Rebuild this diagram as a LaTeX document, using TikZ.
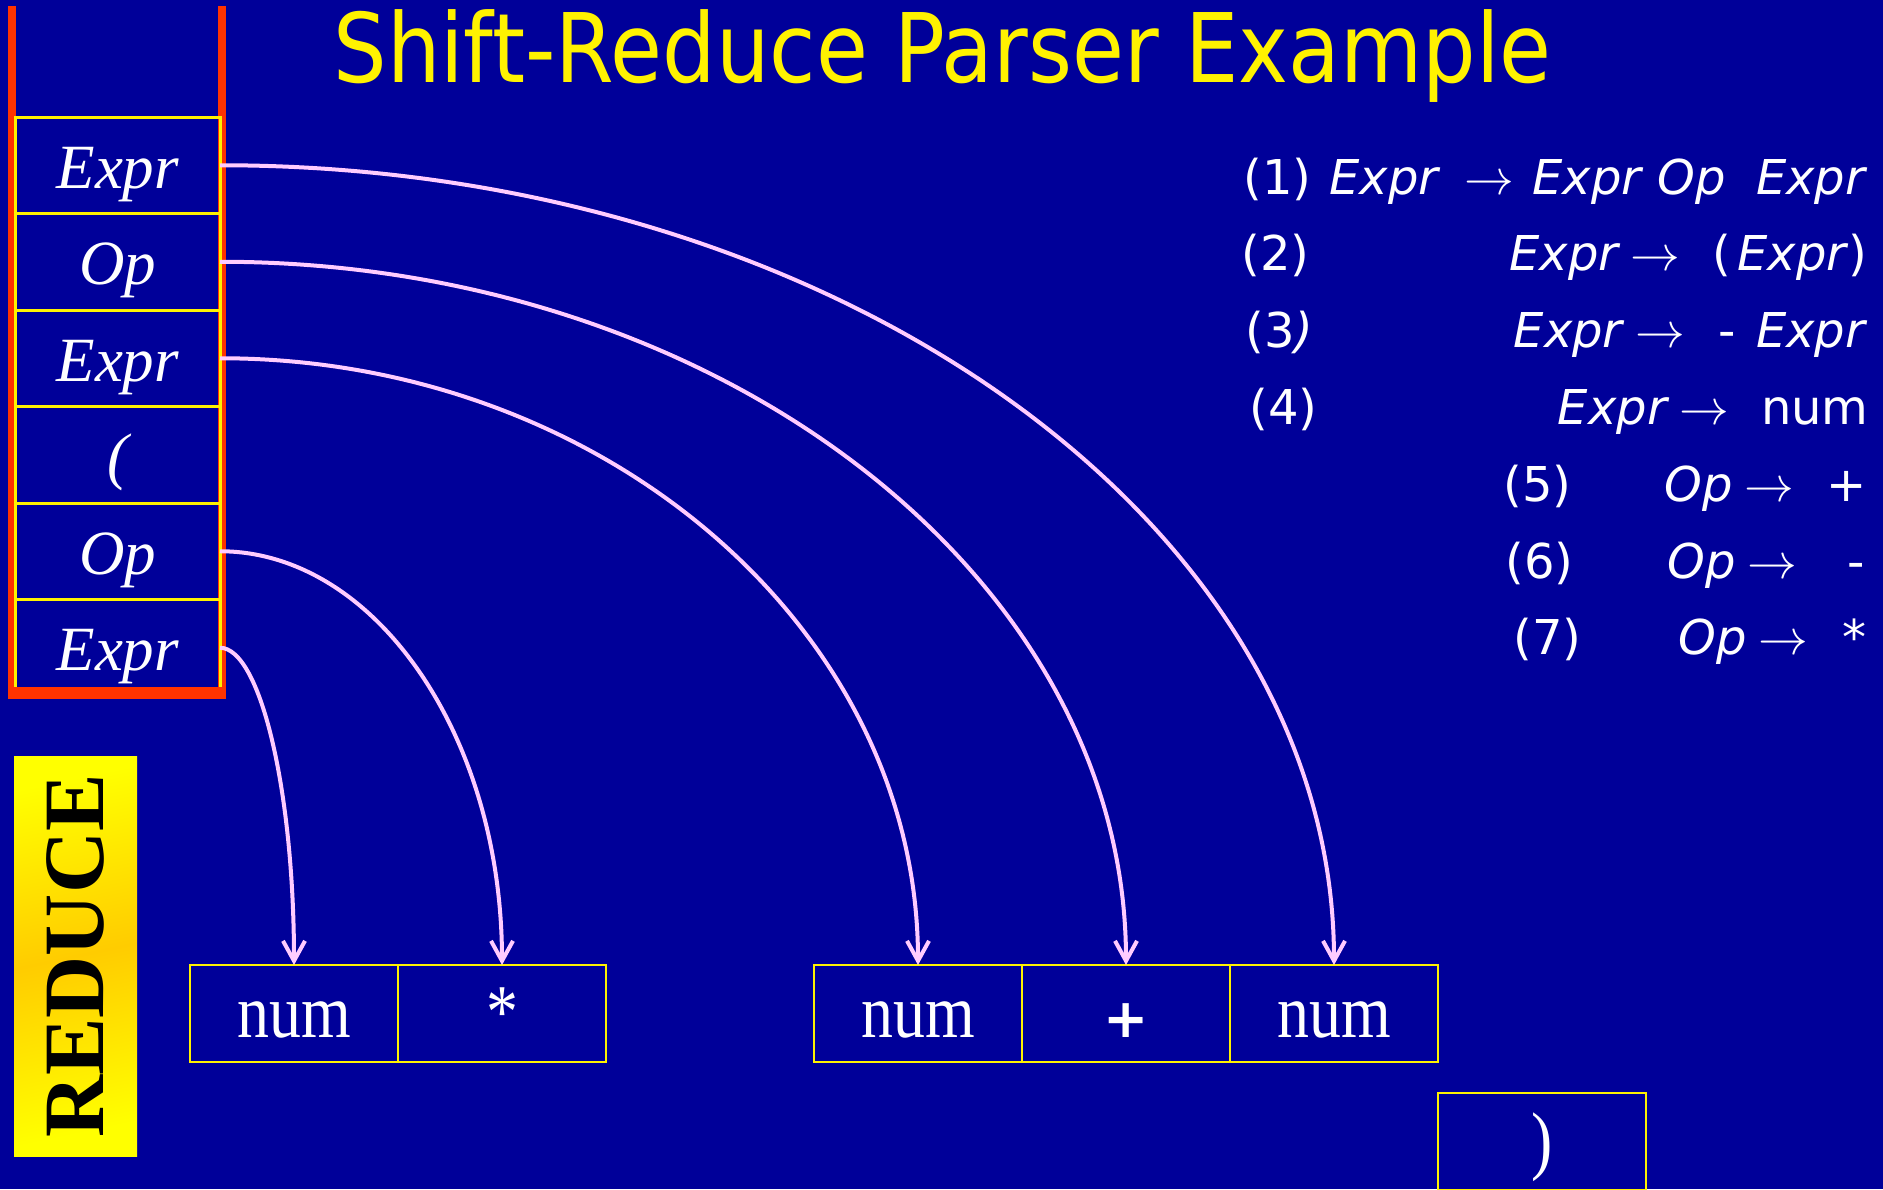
\documentclass[tikz,border=0pt]{standalone}
\usepackage{fontspec}
\setmainfont{Liberation Serif}
\newfontfamily\titlefont[FakeStretch=0.879]{DejaVu Sans}
\newfontfamily\rulefont{DejaVu Sans}
\newfontfamily\tapefont[FakeStretch=0.84]{Liberation Serif}
\usetikzlibrary{arrows.meta,positioning}
\definecolor{slide}{RGB}{0,0,153}
\definecolor{stackred}{RGB}{255,51,0}
\definecolor{arrowpink}{RGB}{255,204,255}
\definecolor{gold}{RGB}{255,204,0}
\newcommand{\der}{$\rightarrow$}

\begin{document}
\begin{tikzpicture}[x=0.5pt,y=-0.5pt,
  cell/.style={draw=yellow,line width=1.5pt,minimum width=102.25pt,minimum height=48.25pt,inner sep=0pt,outer sep=0pt,
    text=white,text height=25pt,text depth=2pt,font=\fontsize{31.5}{34}\selectfont\itshape},
  tape/.style={draw=yellow,line width=1.2pt,minimum width=104pt,minimum height=48.5pt,inner sep=0pt,outer sep=0pt,
    text=white,text height=25pt,text depth=1.5pt,font=\tapefont\fontsize{38}{40}\selectfont},
  gram/.style={text=white,inner sep=0pt,font=\rulefont\fontsize{24}{26}\selectfont},
  pointer/.style={draw=arrowpink,line width=2pt,-{Straight Barb[length=10pt,width=11pt]}}]
  \useasboundingbox (0,0) rectangle (1883,1189);
  \fill[slide] (0,0) rectangle (1883,1189);
  \clip (0,0) rectangle (1883,1189);

  \node[anchor=base,text=yellow,inner sep=0pt,font=\titlefont\fontsize{48}{50}\selectfont] (title) at (942.5,82) {Shift-Reduce Parser Example};

  \draw[stackred,line width=4pt] (12,6) -- (12,699) (222,6) -- (222,699);
  \foreach \i/\lab in {1/Expr,2/Op,3/Expr,4/{(},5/Op,6/Expr}{
    \node[cell] (s\i) at (117.75,{165.25+96.5*(\i-1)}) {\lab};
  }
  \draw[stackred,line width=6pt] (10,693) -- (224,693);

  \node[rotate=90,minimum width=200pt,minimum height=61.5pt,inner sep=0pt,top color=yellow,bottom color=yellow,middle color=gold,
    shading angle=12,font=\fontsize{43}{45}\selectfont\bfseries] (reduce) at (75.5,956) {REDUCE};

  \node[tape] (in1) at (294,1013.5) {num};
  \node[tape,right=0pt of in1] (in2) {*};
  \node[tape] (in3) at (918,1013.5) {num};
  \node[tape,right=0pt of in3] (in4) {\rulefont\bfseries\fontsize{27}{29}\selectfont +};
  \node[tape,right=0pt of in4] (in5) {num};
  \node[tape] (in6) at (1542,1141.5) {)};

  \foreach \s/\t/\a/\b in {1/5/614/442,2/4/499/388,3/3/384/335,5/2/155/229,6/1/40/175}{
    \draw[pointer] (s\s.east) .. controls +(\a,0) and +(0,-\b) .. (in\t.north);
  }

  \foreach \i/\nx/\lbl/\px/\prod in {
    1/1243/{(1)}/1868/{\textit{Expr}\hspace{12pt}\der\hspace{9pt}\textit{Expr}\hspace{7pt}\textit{Op}\hspace{15pt}\textit{Expr}},
    2/1241/{(2)}/1868/{\textit{Expr}\hspace{5pt}\der\hspace{16pt}(\hspace{3pt}\textit{Expr})},
    3/1245/{(3\textit{)}}/1868/{\textit{Expr}\hspace{5pt}\der\hspace{17pt}-\hspace{10pt}\textit{Expr}},
    4/1249/{(4)}/1869/{\textit{Expr}\hspace{5pt}\der\hspace{16pt}num},
    5/1503/{(5)}/1867/{\textit{Op}\hspace{6pt}\der\hspace{16pt}+},
    6/1505/{(6)}/1865/{\textit{Op}\hspace{6pt}\der\hspace{25pt}-},
    7/1513/{(7)}/1867/{\textit{Op}\hspace{6pt}\der\hspace{17pt}*}}{
    \node[gram,anchor=base west] (n\i) at (\nx,{194+76.8*(\i-1)}) {\lbl};
    \node[gram,anchor=base east] (p\i) at (\px,{194+76.8*(\i-1)}) {\prod};
  }
\end{tikzpicture}
\end{document}
